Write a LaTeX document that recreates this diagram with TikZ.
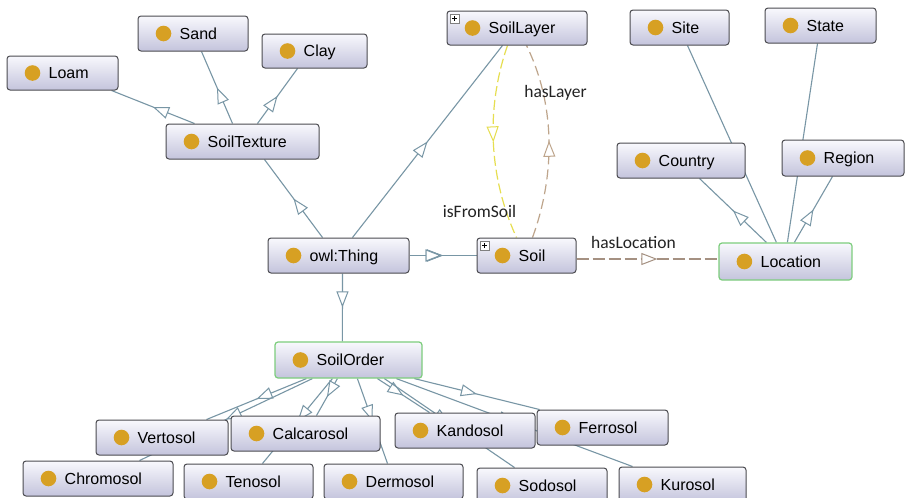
\documentclass[tikz,border=0pt]{standalone}
\usepackage{fontspec}
\setmainfont{Liberation Sans}
\newfontfamily\lblfont{Carlito}
\usetikzlibrary{arrows.meta,calc,decorations.markings}
\pgfdeclarelayer{bg}
\pgfsetlayers{bg,main}
\definecolor{edgec}{RGB}{120,150,165}
\definecolor{boxtop}{RGB}{248,248,253}
\definecolor{boxbot}{RGB}{196,196,220}
\definecolor{boxline}{RGB}{75,75,80}
\definecolor{greenline}{RGB}{125,205,125}
\definecolor{dotc}{RGB}{215,160,35}
\definecolor{yel}{RGB}{230,222,80}
\definecolor{tanc}{RGB}{190,165,140}
\definecolor{locc}{RGB}{165,145,130}
\definecolor{lblc}{RGB}{35,35,35}
\tikzset{
  owlbox/.style={draw=boxline, line width=1pt, rounded corners=3pt, top color=boxtop, bottom color=boxbot, inner sep=0pt},
  greenbox/.style={draw=greenline, line width=1.2pt},
  owltext/.style={anchor=base west, inner sep=0pt, text=black, font=\fontsize{16}{19}\selectfont},
  edgelbl/.style={inner sep=0pt, text=lblc, font=\lblfont\fontsize{17.5}{20}\selectfont},
  midarrow/.style={postaction={decorate}, decoration={markings, mark=at position #1 with {\arrow{Triangle[length=16pt,width=12pt,fill=white,line width=1pt]}}}},
  midarrow/.default=0.5,
  sub/.style={draw=edgec, line width=1.1pt, midarrow},
  plusbox/.style={draw=gray, fill=white, line width=0.6pt},
}
\newcommand\owlnode[7]{%
  \node[owlbox, minimum width=#4pt, minimum height=#5pt, #7] (#1) at (#2,#3) {};
  \fill[dotc] ($(#1.west)+(26,0)$) circle (7.8pt);
  \node[owltext] (#1-l) at ($(#1.west)+(42,5.8)$) {#6};
}
\newcommand\plusicon[1]{%
  \draw[plusbox] ($(#1.north west)+(3.5,3.5)$) rectangle ++(9,9);
  \draw[black, line width=0.9pt] ($(#1.north west)+(8,5.5)$) -- ++(0,5);
  \draw[black, line width=0.9pt] ($(#1.north west)+(5.5,8)$) -- ++(5,0);
}
\begin{document}
\begin{tikzpicture}[x=1pt, y=-1pt]
\useasboundingbox (0,0) rectangle (906,498);
% nodes
\owlnode{Loam}{62.5}{73}{111}{34}{Loam}{}
\owlnode{Sand}{193}{33.5}{110}{35}{Sand}{}
\owlnode{Clay}{314.5}{51}{105}{34}{Clay}{}
\owlnode{ST}{242.5}{141.5}{153}{35}{SoilTexture}{}
\owlnode{SL}{517}{28}{140}{34}{SoilLayer}{}
\owlnode{Site}{679.5}{27.5}{99}{35}{Site}{}
\owlnode{State}{820.5}{25.5}{111}{35}{State}{}
\owlnode{Country}{681}{160.5}{128}{35}{Country}{}
\owlnode{Region}{843}{158}{122}{36}{Region}{}
\owlnode{OT}{338.5}{255.5}{141}{35}{owl:Thing}{}
\owlnode{Soil}{526.5}{255.5}{99}{35}{Soil}{}
\owlnode{Loc}{785.5}{261.5}{133}{37}{Location}{greenbox}
\owlnode{SO}{348.5}{360}{147}{36}{SoilOrder}{greenbox}
\owlnode{Vert}{162}{437.5}{132}{35}{Vertosol}{}
\owlnode{Calc}{305.5}{433.5}{149}{35}{Calcarosol}{}
\owlnode{Kand}{465}{430.5}{140}{35}{Kandosol}{}
\owlnode{Ferr}{602.5}{427.5}{131}{35}{Ferrosol}{}
\owlnode{Chrom}{98}{478.5}{150}{35}{Chromosol}{}
\owlnode{Ten}{248.5}{481.5}{129}{35}{Tenosol}{}
\owlnode{Derm}{393.5}{481.5}{139}{35}{Dermosol}{}
\owlnode{Sod}{542}{485.5}{130}{35}{Sodosol}{}
\owlnode{Kur}{682.5}{484.5}{127}{35}{Kurosol}{}
\plusicon{SL}
\plusicon{Soil}
% edge labels
\node[edgelbl] (lblLayer) at (555.5,93) {hasLayer};
\node[edgelbl] (lblFrom) at (479.5,211) {isFromSoil};
\node[edgelbl] (lblLoc) at (633.5,242) {hasLocation};
% edges
\begin{pgfonlayer}{bg}
\fill[white] (0,0) rectangle (906,498);
\draw[sub] ($(ST.north west)+(29,0)$) -- ($(Loam.south west)+(105,0)$);
\draw[sub] ($(ST.north west)+(67,0)$) -- ($(Sand.south west)+(64,0)$);
\draw[sub] ($(ST.north west)+(92,0)$) -- ($(Clay.south west)+(36,0)$);
\draw[sub] ($(OT.north west)+(55,0)$) -- ($(ST.south west)+(99,0)$);
\draw[sub] ($(OT.north west)+(85,0)$) -- ($(SL.south west)+(56,0)$);
\draw[sub, line width=1.3pt, midarrow=0.48] (OT.east) -- (Soil.west);
\draw[sub] ($(OT.south west)+(75,0)$) -- ($(SO.north west)+(68,0)$);
% object properties
\draw[yel, line width=1.2pt, dash pattern=on 10pt off 4pt, midarrow]
  ($(SL.south west)+(61,0)$) .. controls +(-21,60) and +(-29,-63) .. ($(Soil.north west)+(40,0)$);
\draw[tanc, line width=1.2pt, dash pattern=on 10pt off 5pt, midarrow]
  ($(Soil.north west)+(56,0)$) .. controls +(23,-63) and +(29,59) .. ($(SL.south west)+(80,0)$);
\draw[locc, line width=1.3pt, dash pattern=on 12pt off 4pt, midarrow=0.57]
  ($(Soil.east)+(0,3.5)$) -- ($(Loc.west)+(0,-2.5)$);
% location
\draw[sub] ($(Loc.north west)+(48,0)$) -- ($(Country.south west)+(83,0)$);
\draw[sub] ($(Loc.north west)+(76,0)$) -- ($(Region.south west)+(51,0)$);
\draw[sub] ($(Loc.north west)+(58,0)$) -- ($(Site.south west)+(58,0)$);
\draw[sub] ($(Loc.north west)+(69,0)$) -- ($(State.south west)+(53,0)$);
% soil orders
\draw[sub] ($(SO.south west)+(32,0)$) -- ($(Vert.north west)+(111,0)$);
\draw[sub] ($(SO.south west)+(38,0)$) -- ($(Chrom.north west)+(117,0)$);
\draw[sub] ($(SO.south west)+(58,0)$) -- ($(Ten.north west)+(79,0)$);
\draw[sub] ($(SO.south west)+(63,0)$) -- ($(Calc.north west)+(86,0)$);
\draw[sub] ($(SO.south west)+(83,0)$) -- ($(Derm.north west)+(64,0)$);
\draw[sub] ($(SO.south west)+(103,0)$) -- ($(Kand.north west)+(35,0)$);
\draw[sub] ($(SO.south west)+(110,0)$) -- ($(Sod.north west)+(38,0)$);
\draw[sub] ($(SO.south west)+(122,0)$) -- ($(Kur.north west)+(14,0)$);
\draw[sub] ($(SO.south west)+(140,0)$) -- ($(Ferr.north west)+(3,0)$);
\end{pgfonlayer}
\end{tikzpicture}
\end{document}
